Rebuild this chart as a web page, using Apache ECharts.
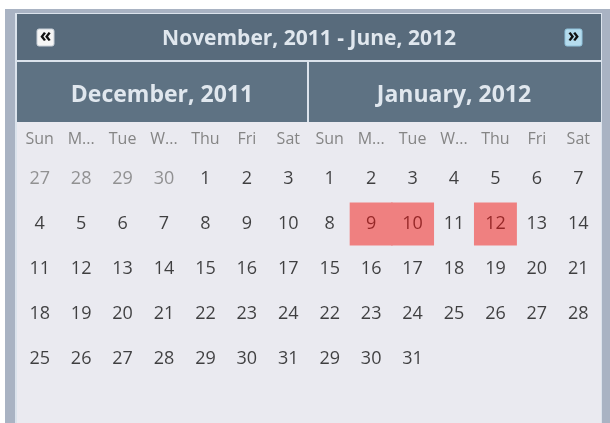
<!DOCTYPE html>
<html>
<head>
<meta charset="utf-8">
<script src="https://cdn.jsdelivr.net/npm/echarts@6/dist/echarts.min.js"></script>
<style>
  html, body { margin: 0; padding: 0; background: #fff; }
  #main { width: 610px; height: 423px; }
</style>
</head>
<body>
<div id="main"></div>
<script>
const chartDom = document.getElementById('main');
const myChart = echarts.init(chartDom);

// calendar data
const periodTitle = 'November, 2011 - June, 2012';
const monthNames = ['December, 2011', 'January, 2012'];
const currentMonths = ['2011-12', '2012-01'];
const calendarRanges = [
    ['2011-11-27', '2011-12-31'],
    ['2012-01-01', '2012-01-31']
];
const dayNames = ['Sun', 'M...', 'Tue', 'W...', 'Thu', 'Fri', 'Sat'];
const highlightDates = ['2012-01-09', '2012-01-10', '2012-01-12'];

const FONT = '"Open Sans", "DejaVu Sans", sans-serif';
const cellW = 41.43;
const cellH = 45;
const calLeft = [19, 309];
const calTop = 156.5;

function pad(n) {
    return n < 10 ? '0' + n : '' + n;
}

// every day of a range, as 'YYYY-MM-DD'
function listDays(range) {
    const out = [];
    const p0 = range[0].split('-').map(Number);
    const p1 = range[1].split('-').map(Number);
    const d = new Date(Date.UTC(p0[0], p0[1] - 1, p0[2]));
    const end = Date.UTC(p1[0], p1[1] - 1, p1[2]);
    while (d.getTime() <= end) {
        out.push(d.getUTCFullYear() + '-' + pad(d.getUTCMonth() + 1) + '-' + pad(d.getUTCDate()));
        d.setUTCDate(d.getUTCDate() + 1);
    }
    return out;
}

const calendars = calendarRanges.map(function (range, idx) {
    return {
        orient: 'vertical',
        range: range,
        left: calLeft[idx],
        top: calTop,
        cellSize: [cellW, cellH],
        splitLine: { show: false },
        itemStyle: { color: 'transparent', borderWidth: 0 },
        dayLabel: {
            firstDay: 0,
            nameMap: dayNames,
            position: 'start',
            margin: 9,
            color: '#858585',
            fontSize: 16,
            fontFamily: FONT
        },
        monthLabel: { show: false },
        yearLabel: { show: false }
    };
});

const highlightSeries = calendarRanges.map(function (range, idx) {
    const days = listDays(range);
    return {
        type: 'scatter',
        coordinateSystem: 'calendar',
        calendarIndex: idx,
        symbol: 'rect',
        symbolSize: [cellW + 1.5, 43],
        z: 2,
        silent: true,
        itemStyle: { color: '#ef8080', opacity: 1 },
        data: highlightDates.filter(function (d) {
            return days.indexOf(d) >= 0;
        }).map(function (d) {
            return [d, 1];
        })
    };
});

const daySeries = calendarRanges.map(function (range, idx) {
    return {
        type: 'scatter',
        coordinateSystem: 'calendar',
        calendarIndex: idx,
        symbolSize: 1,
        z: 3,
        silent: true,
        itemStyle: { color: 'transparent' },
        label: {
            show: true,
            position: 'inside',
            fontSize: 18,
            fontFamily: FONT,
            formatter: function (p) {
                return String(Number(p.value[0].slice(8)));
            }
        },
        data: listDays(range).map(function (d) {
            let color = '#141414';
            if (d.slice(0, 7) !== currentMonths[idx]) color = '#7a7a7a';
            if (highlightDates.indexOf(d) >= 0) color = '#7e1010';
            return { value: [d, 1], label: { color: color } };
        })
    };
});

const headText = { fill: '#e0e7ee', fontFamily: FONT, fontWeight: 'bold' };

const graphics = [
    // frame
    { type: 'rect', shape: { x: 5, y: 9, width: 605, height: 414 }, style: { fill: '#a9b3c3' }, z: 0 },
    { type: 'rect', shape: { x: 15, y: 13, width: 587, height: 410 }, style: { fill: '#dbe3ec' }, z: 0 },
    // title bar
    { type: 'rect', shape: { x: 17, y: 14, width: 584, height: 46 }, style: { fill: '#586b7c' }, z: 0 },
    // month bands
    { type: 'rect', shape: { x: 17, y: 62, width: 290, height: 60 }, style: { fill: '#5e7283' }, z: 0 },
    { type: 'rect', shape: { x: 309, y: 62, width: 292, height: 60 }, style: { fill: '#5e7283' }, z: 0 },
    // body
    { type: 'rect', shape: { x: 17, y: 122, width: 584, height: 301 }, style: { fill: '#eaeaf0' }, z: 0 },
    // buttons
    { type: 'rect', shape: { x: 37, y: 29, width: 17, height: 17, r: 2 }, style: { fill: '#f6f6f6', stroke: '#c8d0d8', lineWidth: 1 }, z: 1 },
    { type: 'text', x: 45.5, y: 37, style: { text: '«', fontSize: 19, fontWeight: 'bold', fontFamily: FONT, fill: '#111', align: 'center', verticalAlign: 'middle' }, z: 2 },
    { type: 'rect', shape: { x: 565, y: 29, width: 17, height: 17, r: 2 }, style: { fill: '#b5dcee', stroke: '#8fc3dc', lineWidth: 1 }, z: 1 },
    { type: 'text', x: 573.5, y: 37, style: { text: '»', fontSize: 19, fontWeight: 'bold', fontFamily: FONT, fill: '#111', align: 'center', verticalAlign: 'middle' }, z: 2 },
    // title and month labels
    { type: 'text', x: 309, y: 39, style: Object.assign({ text: periodTitle, fontSize: 21, align: 'center', verticalAlign: 'middle' }, headText), z: 2 },
    { type: 'text', x: 162, y: 95, style: Object.assign({ text: monthNames[0], fontSize: 23, align: 'center', verticalAlign: 'middle' }, headText), z: 2 },
    { type: 'text', x: 454, y: 95, style: Object.assign({ text: monthNames[1], fontSize: 23, align: 'center', verticalAlign: 'middle' }, headText), z: 2 }
];

const option = {
    backgroundColor: '#fff',
    animation: false,
    graphic: { elements: graphics, z: -1 },
    calendar: calendars,
    series: highlightSeries.concat(daySeries)
};

myChart.setOption(option);
</script>
</body>
</html>
